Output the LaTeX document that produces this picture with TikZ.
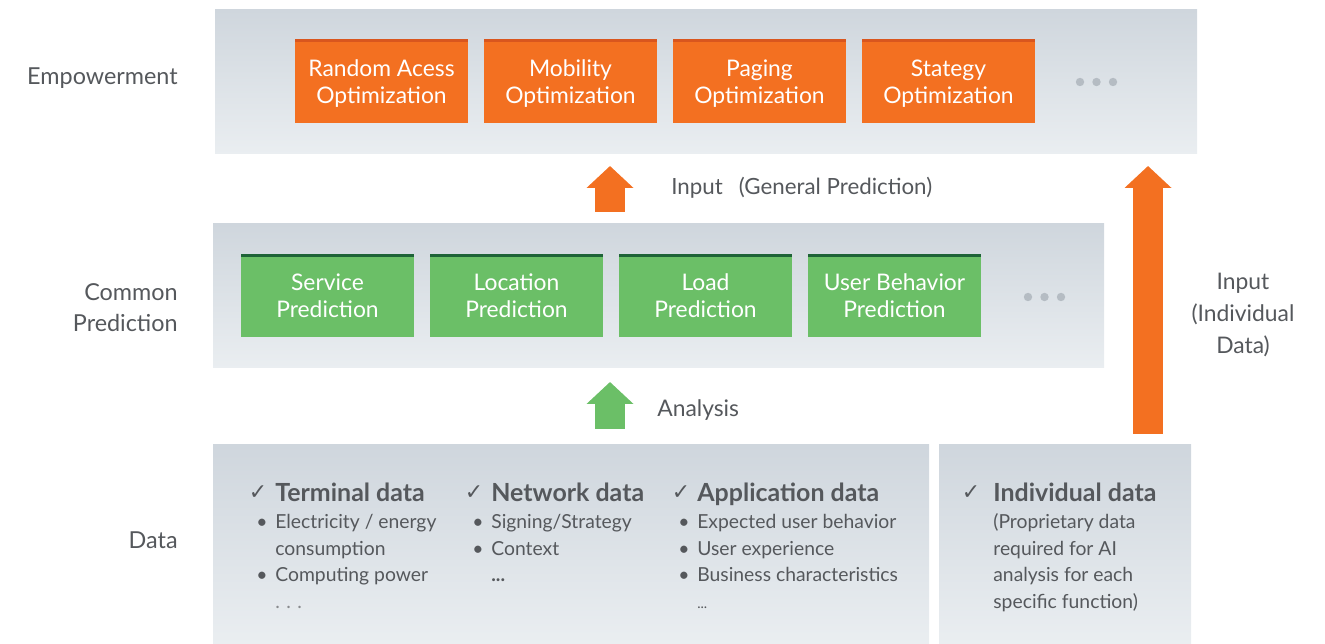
\documentclass[tikz,border=0pt]{standalone}
\usepackage{fontspec}
\setmainfont{Lato}
\newfontfamily\symfont{DejaVu Sans}
\usetikzlibrary{arrows.meta,positioning}

\definecolor{optorange}{HTML}{F37021}
\definecolor{opttop}{HTML}{D9561E}
\definecolor{predgreen}{HTML}{6BBF67}
\definecolor{predtop}{HTML}{1E6338}
\definecolor{paneltop}{HTML}{CFD6DD}
\definecolor{panelbot}{HTML}{EAEEF1}
\definecolor{labelgray}{HTML}{55585C}
\definecolor{dotgray}{HTML}{B5BCC3}

\newcommand\pxu{0.02cm}
\newcommand\datum[1]{\makebox[10.8pt][l]{\textbullet}#1}
\newcommand\cont[1]{\hspace*{10.8pt}#1}

\tikzset{
	panel/.style={anchor=north west, inner sep=0pt, outer sep=0pt, top color=paneltop, bottom color=panelbot},
	stagebox/.style={minimum width=173*\pxu, minimum height=83*\pxu, inner sep=0pt, outer sep=0pt, align=center, text=white, text depth=-4pt, font=\fontsize{13}{15.3}\selectfont},
	optbox/.style={stagebox, fill=optorange, path picture={\draw[opttop, line width=2.4pt] (path picture bounding box.north west) -- (path picture bounding box.north east);}},
	predbox/.style={stagebox, fill=predgreen, minimum height=82*\pxu, path picture={\draw[predtop, line width=2.6pt] (path picture bounding box.north west) -- (path picture bounding box.north east);}},
	layerlabel/.style={anchor=east, align=right, inner sep=0pt, text=labelgray, font=\fontsize{13.3}{17.6}\selectfont},
	flowlabel/.style={anchor=west, align=center, inner sep=0pt, text=labelgray, font=\fontsize{13}{18}\selectfont},
	upflow/.style={line width=17pt, -{Triangle[width=26pt, length=12.5pt]}},
	tick/.style={text=labelgray, inner sep=0pt, font=\symfont\fontsize{12.5}{14}\selectfont},
	datahead/.style={anchor=base west, inner sep=0pt, text=labelgray, font=\bfseries\fontsize{14.2}{16}\selectfont},
	datalist/.style={anchor=base west, inner sep=0pt, text=labelgray, font=\fontsize{11}{15}\selectfont}
}

\begin{document}
\begin{tikzpicture}[x=0.02cm, y=-0.02cm, line join=round, >=Stealth]
	\useasboundingbox (0,0) rectangle (1325,644);
	% layers
	\node[panel, minimum width=982*\pxu, minimum height=144*\pxu] (emp) at (215,10) {};
	\node[panel, minimum width=891*\pxu, minimum height=144*\pxu] (pred) at (213,224) {};
	\node[panel, minimum width=716*\pxu, minimum height=199*\pxu] (data) at (213,445) {};
	\node[panel, minimum width=252*\pxu, minimum height=199*\pxu] (indiv) at (939,445) {};

	\node[layerlabel] (lemp) at (178,78) {Empowerment};
	\node[layerlabel] (lpred) at (178,307.5) {Common\\Prediction};
	\node[layerlabel] (ldata) at (178,540) {Data};

	% empowerment
	\node[optbox] (ra) at (381.5,81.5) {Random Acess\\Optimization};
	\node[optbox, right=16*\pxu of ra] (mob) {Mobility\\Optimization};
	\node[optbox, right=16*\pxu of mob] (pag) {Paging\\Optimization};
	\node[optbox, right=16*\pxu of pag] (stg) {Stategy\\Optimization};
	\foreach \k in {0,1,2} \fill[dotgray] (1080+16.5*\k,82) circle (0.084cm);

	% common prediction
	\node[predbox] (svc) at (327.5,296) {Service\\Prediction};
	\node[predbox, right=16*\pxu of svc] (loc) {Location\\Prediction};
	\node[predbox, right=16*\pxu of loc] (load) {Load\\Prediction};
	\node[predbox, right=16*\pxu of load] (ub) {User Behavior\\Prediction};
	\foreach \k in {0,1,2} \fill[dotgray] (1028+16.5*\k,297) circle (0.084cm);

	% flows
	\coordinate (gen0) at (610,212); \coordinate (gen1) at (610,166);
	\coordinate (ana0) at (610,429); \coordinate (ana1) at (610,382);
	\coordinate (ind0) at (1148,434); \coordinate (ind1) at (1148,166);
	\draw[upflow, optorange] (gen0) -- (gen1);
	\draw[upflow, predgreen] (ana0) -- (ana1);
	\draw[upflow, optorange] (ind0) -- (ind1);
	\node[flowlabel, font=\fontsize{12.7}{18}\selectfont] (lgen) at (671,188) {Input\hspace{0.72em}(General Prediction)};
	\node[flowlabel] (lana) at (657,410) {Analysis};
	\node[flowlabel, anchor=center] (lind) at (1243,315) {Input\\(Individual\\Data)};

	% data
	\node[tick] (tk1) at (258,493) {✓};
	\node[tick] (tk2) at (474,493) {✓};
	\node[tick] (tk3) at (681,493) {✓};
	\node[tick] (tk4) at (971,493) {✓};
	\node[datahead] (hterm) at (275,502) {Terminal data};
	\node[datahead] (hnet) at (491,502) {Network data};
	\node[datahead] (happ) at (697,502) {Application data};
	\node[datahead] (hind) at (993,502) {Individual data};
	\node[datalist] (dterm) at (256,529) {\begin{tabular}[t]{@{}l@{}}
		\datum{Electricity / energy}\\ \cont{consumption}\\ \datum{Computing power}\\ \cont{\color{labelgray!70}.\,\,.\,\,.}
	\end{tabular}};
	\node[datalist] (dnet) at (472,529) {\begin{tabular}[t]{@{}l@{}}
		\datum{Signing/Strategy}\\ \datum{Context}\\ \cont{\textbf{...}}
	\end{tabular}};
	\node[datalist] (dapp) at (678,529) {\begin{tabular}[t]{@{}l@{}}
		\datum{Expected user behavior}\\ \datum{User experience}\\ \datum{Business characteristics}\\ \cont{\footnotesize ...}
	\end{tabular}};
	\node[datalist] (dind) at (993,529) {\begin{tabular}[t]{@{}l@{}}
		(Proprietary data\\ required for AI\\ analysis for each\\ specific function)
	\end{tabular}};
\end{tikzpicture}
\end{document}
